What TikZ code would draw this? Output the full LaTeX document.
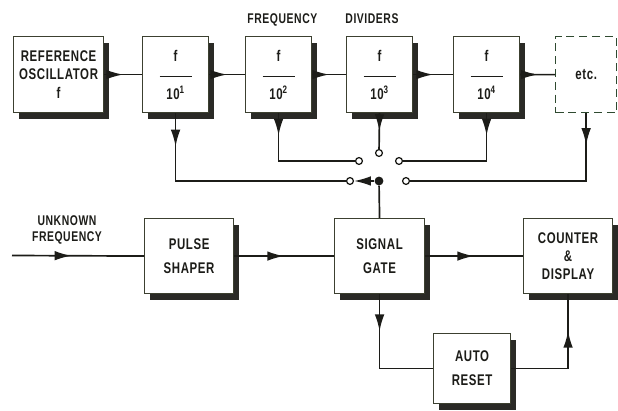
\documentclass[tikz,border=0pt]{standalone}
\usepackage{fontspec}
\setmainfont{Liberation Sans}[FakeStretch=0.74, LetterSpace=4]
\usetikzlibrary{arrows.meta,decorations.markings}
\definecolor{inkline}{HTML}{1C1C18}
\definecolor{shadowink}{HTML}{2A2A26}
\definecolor{boxedge}{HTML}{3C4030}
\definecolor{etcedge}{HTML}{2F4A30}

%% f over a bar over 10^n, as in each divider box
\newcommand{\divtext}[1]{f\\[1pt]\rule[3pt]{0.8cm}{0.7pt}\\10\textsuperscript{#1}}

\begin{document}
\begin{tikzpicture}[
  x=0.025cm, y=-0.025cm,
  font=\fontsize{11}{13}\selectfont\bfseries,
  flowtip/.tip={Latex[length=4.2mm,width=2.4mm]},
  block/.style={draw=boxedge, line width=0.8pt, fill=white, anchor=north west,
              align=center, inner sep=1pt, text=inkline},
  divider/.style={block, minimum width=1.65cm, minimum height=1.9cm},
  wire/.style={draw=inkline, line width=1.2pt},
  flowat/.style={wire, postaction={decorate},
              decoration={markings, mark=at position #1 with {\arrow{flowtip}}}},
  flowat/.default=0.5,
  contact/.style={circle, draw=inkline, line width=0.9pt, fill=white,
              inner sep=0pt, minimum size=0.17cm},
  pivot/.style={circle, fill=inkline, inner sep=0pt, minimum size=0.22cm}]

%% Lienzo en pixeles de la referencia (618 x 411), y hacia abajo.
\useasboundingbox (0,0) rectangle (618,411);

%% ---- sombras: x/y/ancho/alto de cada caja, corridas 6 y 7 px ----
\foreach \x/\y/\w/\h in {13/36/90/76, 142/36/66/76, 245/36/66/76,
                          346/36/66/76, 453/36/66/76, 144/218/89/75,
                          334/218/90/75, 523/218/89/75, 433/333/77/70}
  \fill[shadowink] (\x+6,\y+7) rectangle ++(\w,\h);

%% ---- titulo ----
\node[font=\fontsize{10}{12}\selectfont\bfseries, text=inkline] (title) at (323,20)
  {FREQUENCY\hspace{2em}DIVIDERS};

%% ---- fila superior: oscilador y divisores ----
\node[block, minimum width=2.25cm, minimum height=1.9cm] (osc) at (13,36)
  {REFERENCE\\OSCILLATOR\\f};
\node[divider] (d1) at (142,36) {\divtext{1}};
\node[divider] (d2) at (245,36) {\divtext{2}};
\node[divider] (d3) at (346,36) {\divtext{3}};
\node[divider] (d4) at (453,36) {\divtext{4}};
\node[draw=etcedge, dash pattern=on 2mm off 1.2mm, line width=0.9pt,
      anchor=north west, minimum width=1.525cm, minimum height=1.9cm,
      text=inkline] (etc) at (555,36) {etc.};

\draw[flowat] (osc.east) -- (d1.west);
\draw[flowat] (d1.east) -- (d2.west);
\draw[flowat] (d2.east) -- (d3.west);
\draw[flowat] (d3.east) -- (d4.west);
\draw[flowat] (d4.east) -- (etc.west);

%% ---- selector: cinco contactos y el brazo ----
\node[contact] (c1) at (359,161) {};
\node[contact] (c2) at (379,153) {};
\node[contact] (c3) at (399,161) {};
\node[contact] (c4) at (350,181) {};
\node[contact] (c5) at (406,181) {};
\node[pivot] (piv) at (379,181) {};

\draw[flowat=0.14] (d1.south) |- (c4);
\draw[flowat=0.18] (d2.south) |- (c1);
\draw[flowat] (d3.south) -- (c2);
\draw[flowat=0.17] (d4.south) |- (c3);
\draw[flowat=0.13] (etc.south) |- (c5);
\draw[wire, -flowtip] (piv) -- (c4);

%% ---- fila inferior ----
\node[block, minimum width=2.225cm, minimum height=1.875cm] (ps) at (144,218)
  {PULSE\\[4pt]SHAPER};
\node[block, minimum width=2.25cm, minimum height=1.875cm] (sg) at (334,218)
  {SIGNAL\\[4pt]GATE};
\node[block, minimum width=2.225cm, minimum height=1.875cm] (cd) at (523,218)
  {COUNTER\\\&\\DISPLAY};
\node[block, minimum width=1.925cm, minimum height=1.75cm] (ar) at (433,333)
  {AUTO\\[4pt]RESET};

\draw[wire] (piv) -- (sg.north);

\coordinate (uin) at (12,255.5);
\node[align=center, text=inkline, font=\fontsize{10}{12}\selectfont\bfseries]
  (ulabel) at (67,230) {UNKNOWN\\FREQUENCY};
\draw[flowat=0.45] (uin) -- (ps.west);
\draw[flowat] (ps.east) -- (sg.west);
\draw[flowat] (sg.east) -- (cd.west);
\draw[flowat=0.29] (sg.south) |- (ar.west);
\draw[flowat=0.72] (ar.east) -| (cd.south);

\end{tikzpicture}
\end{document}
